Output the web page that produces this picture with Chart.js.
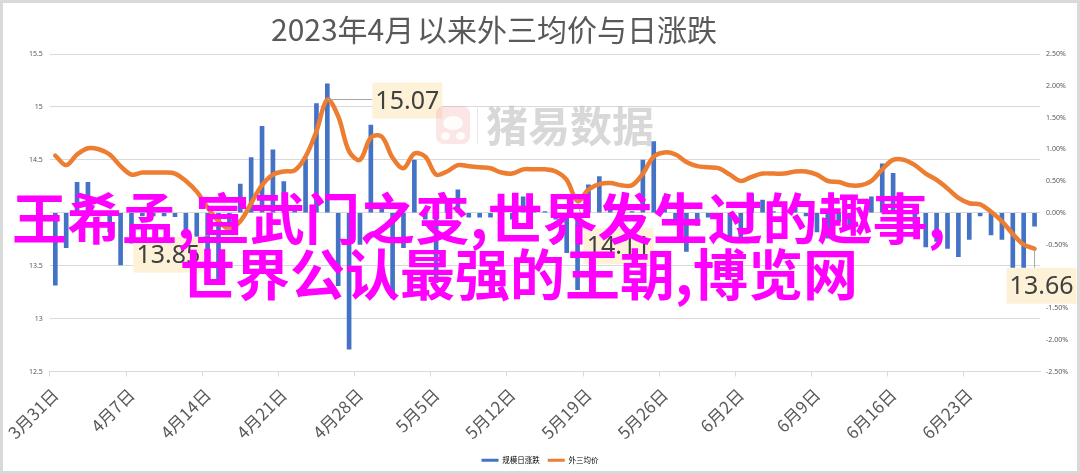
<!DOCTYPE html>
<html>
<head>
<meta charset="utf-8">
<script src="https://cdn.jsdelivr.net/npm/chart.js@4.4.1/dist/chart.umd.min.js"></script>
<style>
  html, body { margin: 0; padding: 0; background: #fff; }
  #frame { position: absolute; left: 0; top: 0; width: 1080px; height: 474px; box-sizing: border-box; border: 3px solid #d9d9d9; background: #fff; }
  #frame canvas { display: block; }
  .title { position: absolute; left: 0; top: 10px; width: 988px; text-align: center; font: 30px "Noto Sans CJK SC", sans-serif; line-height: 36px; color: #595959; white-space: nowrap; }
  .title span { letter-spacing: -4px; }
  .wm-logo { position: absolute; left: 436px; top: 106px; width: 34px; height: 38px; border-radius: 8px; background: rgba(240, 150, 150, .25); }
  .wm-logo i { position: absolute; border-radius: 50%; background: rgba(255, 255, 255, .9); }
  .wm-sep { position: absolute; left: 477px; top: 106px; width: 1px; height: 38px; background: #e6e6e6; }
  .wm-text { position: absolute; left: 486px; top: 100px; font: bold 42px "Noto Sans CJK SC", sans-serif; line-height: 48px; color: rgba(190, 190, 190, .6); white-space: nowrap; }
  .over { position: absolute; font: bold 55px "Noto Sans CJK SC", sans-serif; line-height: 55px; color: #ff00ff; white-space: nowrap; }
</style>
</head>
<body>
<div id="frame"><canvas id="chart" width="1074" height="468"></canvas></div>
<div class="title">2023年4月<span> </span>以来外三均价与日涨跌</div>
<div class="wm-logo"><i style="left:7px;top:10px;width:20px;height:14px"></i><i style="left:5px;top:26px;width:9px;height:8px"></i><i style="left:20px;top:26px;width:9px;height:8px"></i></div>
<div class="wm-sep"></div>
<div class="wm-text">猪易数据</div>
<div class="over" style="left:12px;top:188px">王希孟,宣武门之变,世界发生过的趣事,</div>
<div class="over" style="left:180px;top:244px">世界公认最强的王朝,博览网</div>
<script>
// 外三均价（元/公斤）与日涨跌（%），2023-03-31 起逐日
const firstDay = [2023, 2, 31];
const dayCount = 91;
const tickEvery = 7;

const price = [
  14.54, 14.45, 14.55, 14.61, 14.60, 14.55, 14.44,
  14.36, 14.38, 14.38, 14.38, 14.37, 14.30, 14.20,
  14.05, 13.92, 13.85, 13.92, 14.09, 14.26, 14.36,
  14.39, 14.40, 14.53, 14.77, 15.07, 14.91, 14.58,
  14.50, 14.71, 14.72, 14.52, 14.42, 14.56, 14.53,
  14.36, 14.39, 14.45, 14.44, 14.43, 14.42, 14.38,
  14.37, 14.41, 14.41, 14.41, 14.39, 14.31, 14.11,
  14.22, 14.27, 14.28, 14.26, 14.26, 14.37, 14.53,
  14.57, 14.55, 14.48, 14.44, 14.43, 14.42, 14.36,
  14.30, 14.34, 14.37, 14.37, 14.37, 14.39, 14.39,
  14.36, 14.30, 14.29, 14.26, 14.26, 14.30, 14.41,
  14.50, 14.50, 14.45, 14.37, 14.31, 14.23, 14.14,
  14.09, 14.08, 14.01, 13.92, 13.80, 13.70, 13.66,
];

const change = [
  -1.14, -0.55, 0.48, 0.48, -0.05, -0.30, -0.82,
  -0.48, -0.05, -0.05, -0.05, -0.06, -0.45, -0.75,
  -1.05, -1.13, -0.30, 0.45, 0.87, 1.36, 0.99,
  0.49, 0.10, 0.85, 1.72, 2.03, -1.15, -2.15,
  -0.50, 1.38, 0.07, -1.34, -0.55, 0.83, -0.10,
  -1.10, 0.20, 0.36, -0.07, -0.07, -0.07, -0.25,
  -0.10, 0.25, 0.02, 0.02, -0.10, -0.63, -1.21,
  0.44, 0.57, 0.13, -0.10, 0.02, 0.83, 1.12,
  0.25, -0.15, -0.61, -0.20, -0.07, -0.07, -0.45,
  -0.40, 0.30, 0.20, 0.02, 0.02, 0.10, -0.05,
  -0.30, -0.40, -0.14, -0.20, 0.02, 0.25, 0.77,
  0.62, 0.02, -0.20, -0.54, -0.45, -0.56, -0.69,
  -0.42, -0.05, -0.35, -0.42, -0.90, -0.90, -0.21,
];

const seriesNames = ['规模日涨跌', '外三均价'];
const priceAxis = { min: 12.5, max: 15.5, step: 0.5 };
const changeAxis = { min: -2.5, max: 2.5, step: 0.5 };
// 标注的点（下标）
const calloutIdx = [25, 16, 48, 90];

const C = { blue: '#4472C4', orange: '#ED7D31', grid: '#d9d9d9', ink: '#595959', label: '#404040', box: '#fdf1d8' };

const days = [];
for (let i = 0; i < dayCount; i++) {
  const d = new Date(firstDay[0], firstDay[1], firstDay[2] + i);
  days.push((d.getMonth() + 1) + '月' + d.getDate() + '日');
}

// 数据标签：偏移量只是样式
const calloutOffset = [[80, 1], [-61, 26], [41, 45], [7, 37]];
const callouts = {
  id: 'callouts',
  afterDatasetsDraw(chart) {
    const ctx = chart.ctx;
    const meta = chart.getDatasetMeta(1);
    const w = 70, h = 36;
    ctx.save();
    calloutIdx.forEach((idx, k) => {
      const p = meta.data[idx];
      const cx = p.x + calloutOffset[k][0], cy = p.y + calloutOffset[k][1];
      const l = cx - w / 2, t = cy - h / 2;
      const ex = Math.min(Math.max(p.x, l), l + w), ey = Math.min(Math.max(p.y, t), t + h);
      ctx.strokeStyle = '#a6a6a6'; ctx.lineWidth = 1;
      ctx.beginPath(); ctx.moveTo(p.x, p.y); ctx.lineTo(ex, ey); ctx.stroke();
      ctx.fillStyle = C.box; ctx.fillRect(l, t, w, h);
      ctx.fillStyle = C.label; ctx.font = '25px "Noto Sans", sans-serif';
      ctx.textAlign = 'center'; ctx.textBaseline = 'middle';
      ctx.fillText(price[idx].toFixed(2), cx, cy + 1);
    });
    ctx.restore();
  },
};

new Chart(document.getElementById('chart'), {
  type: 'bar',
  data: {
    labels: days,
    datasets: [
      { type: 'bar', label: seriesNames[0], data: change, yAxisID: 'y1', backgroundColor: C.blue, barThickness: 4, order: 2 },
      { type: 'line', label: seriesNames[1], data: price, yAxisID: 'y', borderColor: C.orange, backgroundColor: C.orange,
        borderWidth: 4.5, tension: 0.35, pointRadius: 0, borderCapStyle: 'round', borderJoinStyle: 'round', order: 1 },
    ],
  },
  plugins: [callouts],
  options: {
    responsive: false, animation: false,
    layout: { padding: { top: 51, bottom: -3, left: 0, right: 0 } },
    plugins: {
      tooltip: { enabled: false },
      title: { display: false },
      legend: {
        position: 'bottom',
        labels: {
          boxWidth: 17, boxHeight: 3, padding: 8, color: C.ink,
          font: { family: '"Noto Sans CJK SC", sans-serif', size: 7.5 },
          generateLabels: () => seriesNames.map((t, i) => ({
            text: t, fillStyle: i ? C.orange : C.blue, strokeStyle: i ? C.orange : C.blue, lineWidth: 0, hidden: false, datasetIndex: i,
          })),
        },
      },
    },
    scales: {
      x: {
        type: 'category', offset: true,
        afterFit: (s) => { s.height = 77; },
        grid: {
          offset: true, drawOnChartArea: false, drawTicks: true, tickLength: 5,
          color: (c) => (c.index % tickEvery === 0 ? C.grid : 'rgba(0,0,0,0)'),
        },
        border: { display: true, color: C.grid },
        ticks: {
          autoSkip: false, minRotation: 45, maxRotation: 45, padding: 8, color: C.ink,
          font: { family: '"Noto Sans CJK SC", sans-serif', size: 17 },
          callback: (v, i) => (i % tickEvery === 0 ? days[i] : ''),
        },
      },
      y: {
        position: 'left', min: priceAxis.min, max: priceAxis.max,
        afterFit: (s) => { s.width = 46; },
        grid: { color: C.grid, drawTicks: false },
        border: { display: false },
        ticks: { stepSize: priceAxis.step, padding: 7, color: C.ink, font: { family: '"Noto Sans", sans-serif', size: 7 }, callback: (v) => String(v) },
      },
      y1: {
        position: 'right', min: changeAxis.min, max: changeAxis.max,
        afterFit: (s) => { s.width = 37; },
        grid: { drawOnChartArea: false, drawTicks: false },
        border: { display: false },
        ticks: { stepSize: changeAxis.step, padding: 6, color: C.ink, font: { family: '"Noto Sans", sans-serif', size: 7 }, callback: (v) => v.toFixed(2) + '%' },
      },
    },
  },
});
</script>
</body>
</html>
